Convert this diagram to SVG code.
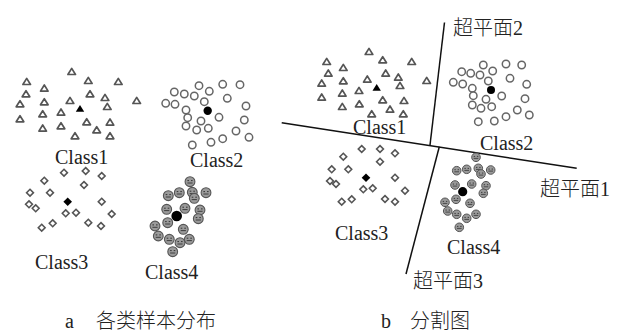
<svg xmlns="http://www.w3.org/2000/svg" xmlns:xlink="http://www.w3.org/1999/xlink" width="621" height="331" viewBox="0 0 621 331">
<style>
.t{fill:#fff;stroke:#555;stroke-width:1.7;stroke-linejoin:round}
.c{fill:#fff;stroke:#666;stroke-width:1.5}
.d{fill:#fff;stroke:#555;stroke-width:1.6}
.tx{font-family:"Liberation Serif","Noto Sans CJK SC",serif;font-size:20px;fill:#222}
.cj{font-family:"Liberation Serif","Noto Sans CJK SC",serif;font-size:20px;fill:#222;font-weight:300}
.ln{stroke:#111;stroke-width:1.5;fill:none}
</style>
<defs>
<path id="tri" class="t" d="M0,-3.3 L3.8,2.8 L-3.8,2.8 Z"/>
<path id="triF" d="M0,-3.8 L4.2,3 L-4.2,3 Z" fill="#000"/>
<circle id="cir" class="c" r="3.7"/>
<path id="dia" class="d" d="M0,-3.4 L3.4,0 L0,3.4 L-3.4,0 Z"/>
<path id="diaF" d="M0,-4.3 L4.3,0 L0,4.3 L-4.3,0 Z" fill="#000"/>
<g id="sm">
<circle r="4.9" fill="#9a9a9a" stroke="#555" stroke-width="1.1"/>
<rect x="-2.6" y="-1.6" width="1.6" height="1" fill="#333"/>
<rect x="1" y="-1.6" width="1.6" height="1" fill="#333"/>
<path d="M-2.6,1.3 L2.6,1.3" stroke="#333" stroke-width="0.9"/>
</g>
<g id="sm2">
<circle r="4.3" fill="#9a9a9a" stroke="#555" stroke-width="1"/>
<rect x="-2.3" y="-1.4" width="1.4" height="0.9" fill="#333"/>
<rect x="0.9" y="-1.4" width="1.4" height="0.9" fill="#333"/>
<path d="M-2.3,1.1 L2.3,1.1" stroke="#333" stroke-width="0.8"/>
</g>
</defs>

<g id="left-class1">
<use href="#tri" x="71.7" y="71.7"/><use href="#tri" x="26.7" y="81.7"/><use href="#tri" x="88.3" y="80.7"/><use href="#tri" x="118.3" y="81.7"/>
<use href="#tri" x="44.3" y="88.3"/><use href="#tri" x="26" y="94"/><use href="#tri" x="90" y="94"/><use href="#tri" x="105" y="97.7"/>
<use href="#tri" x="136.7" y="100.7"/><use href="#tri" x="20" y="104"/><use href="#tri" x="44.3" y="102"/><use href="#tri" x="70" y="100.7"/>
<use href="#tri" x="107.3" y="106.7"/><use href="#tri" x="61" y="112.3"/><use href="#tri" x="42.7" y="114"/><use href="#tri" x="20" y="119"/>
<use href="#tri" x="86.7" y="122"/><use href="#tri" x="110" y="122.3"/><use href="#tri" x="42.7" y="128.3"/><use href="#tri" x="61" y="126"/>
<use href="#tri" x="96.7" y="130"/><use href="#tri" x="75" y="136"/><use href="#tri" x="110" y="136"/>
<use href="#triF" x="80" y="108.7"/>
<text class="tx" x="55" y="164">Class1</text>
</g>

<g id="left-class2">
<use href="#cir" x="199" y="85.7"/><use href="#cir" x="222.7" y="84.3"/><use href="#cir" x="240" y="84.7"/><use href="#cir" x="174.3" y="92"/>
<use href="#cir" x="184.3" y="94"/><use href="#cir" x="194.3" y="96"/><use href="#cir" x="209.3" y="91.3"/><use href="#cir" x="227.3" y="98.3"/>
<use href="#cir" x="165.7" y="103.3"/><use href="#cir" x="175" y="104.3"/><use href="#cir" x="204.3" y="101.7"/><use href="#cir" x="186" y="110"/>
<use href="#cir" x="246" y="106"/><use href="#cir" x="187.7" y="117.7"/><use href="#cir" x="201" y="121"/><use href="#cir" x="219" y="117.3"/>
<use href="#cir" x="244.3" y="120"/><use href="#cir" x="186" y="126"/><use href="#cir" x="196.7" y="130"/><use href="#cir" x="208.3" y="128.3"/>
<use href="#cir" x="236" y="131"/><use href="#cir" x="249" y="137.3"/><use href="#cir" x="222.7" y="138.7"/><use href="#cir" x="211" y="142.3"/>
<use href="#cir" x="192.3" y="145"/>
<circle cx="207.7" cy="110.7" r="4.2" fill="#000"/>
<text class="tx" x="190" y="167">Class2</text>
</g>

<g id="left-class3">
<use href="#dia" x="64" y="172.7"/><use href="#dia" x="85.7" y="171"/><use href="#dia" x="101.7" y="176"/><use href="#dia" x="44.3" y="180.7"/>
<use href="#dia" x="84" y="185"/><use href="#dia" x="30" y="192.7"/><use href="#dia" x="50" y="192.7"/><use href="#dia" x="101.7" y="201.7"/>
<use href="#dia" x="29" y="204.3"/><use href="#dia" x="35.7" y="208.3"/><use href="#dia" x="65.7" y="213.3"/><use href="#dia" x="76" y="212.7"/>
<use href="#dia" x="111.7" y="214"/><use href="#dia" x="41.7" y="227.7"/><use href="#dia" x="52.7" y="223.3"/><use href="#dia" x="88.3" y="222.7"/>
<use href="#dia" x="101" y="226"/>
<use href="#diaF" x="67.7" y="201.7"/>
<text class="tx" x="35" y="269">Class3</text>
</g>

<g id="left-class4">
<use href="#sm" x="190" y="181.7"/><use href="#sm" x="168.3" y="195.7"/><use href="#sm" x="179.3" y="192.7"/><use href="#sm" x="192.3" y="192.3"/>
<use href="#sm" x="206" y="192.7"/><use href="#sm" x="194.3" y="198.3"/><use href="#sm" x="166.7" y="209.3"/><use href="#sm" x="185" y="208.3"/>
<use href="#sm" x="200" y="210"/><use href="#sm" x="198.3" y="218.7"/><use href="#sm" x="167.7" y="222.7"/><use href="#sm" x="155" y="226"/>
<use href="#sm" x="183.3" y="229.3"/><use href="#sm" x="158.3" y="236"/><use href="#sm" x="169.3" y="239.3"/><use href="#sm" x="189.3" y="239.3"/>
<use href="#sm" x="180" y="242.7"/><use href="#sm" x="172.7" y="251.7"/>
<circle cx="176.7" cy="216" r="5.3" fill="#000"/>
<text class="tx" x="145" y="279">Class4</text>
</g>

<g id="connectors">
<line class="ln" x1="281.7" y1="122.7" x2="576.7" y2="168.3"/>
<line class="ln" x1="444.5" y1="22.5" x2="430" y2="145"/>
<line class="ln" x1="439.3" y1="146.7" x2="406" y2="274"/>
</g>

<g id="right-class1">
<use href="#tri" x="369" y="51.7"/><use href="#tri" x="326.7" y="61.7"/><use href="#tri" x="382.7" y="60"/><use href="#tri" x="411.7" y="61.7"/>
<use href="#tri" x="343.3" y="67.7"/><use href="#tri" x="328.3" y="73.3"/><use href="#tri" x="385.7" y="73.3"/><use href="#tri" x="398.3" y="77.3"/>
<use href="#tri" x="321.7" y="83.3"/><use href="#tri" x="343.3" y="81"/><use href="#tri" x="367.3" y="79.3"/><use href="#tri" x="426.7" y="80.7"/>
<use href="#tri" x="400" y="85.7"/><use href="#tri" x="359" y="90.7"/><use href="#tri" x="342.3" y="93.3"/><use href="#tri" x="321.7" y="97.3"/>
<use href="#tri" x="382.7" y="100"/><use href="#tri" x="404" y="100.7"/><use href="#tri" x="342.3" y="106.7"/><use href="#tri" x="359.3" y="104"/>
<use href="#tri" x="390" y="109.3"/><use href="#tri" x="371.7" y="114"/><use href="#tri" x="403.3" y="114"/>
<use href="#triF" x="376.7" y="87.7"/>
<text class="tx" x="353" y="134">Class1</text>
</g>

<g id="right-class2">
<use href="#cir" x="483.3" y="65"/><use href="#cir" x="506" y="64"/><use href="#cir" x="521.7" y="65"/><use href="#cir" x="461.7" y="71.7"/>
<use href="#cir" x="470.7" y="73.3"/><use href="#cir" x="480" y="75"/><use href="#cir" x="492.7" y="71"/><use href="#cir" x="510" y="78.3"/>
<use href="#cir" x="453.3" y="82.3"/><use href="#cir" x="462.7" y="84"/><use href="#cir" x="488.3" y="81"/><use href="#cir" x="472.3" y="88.3"/>
<use href="#cir" x="526.7" y="84.3"/><use href="#cir" x="473.3" y="95.7"/><use href="#cir" x="486" y="99.3"/><use href="#cir" x="501.7" y="96"/>
<use href="#cir" x="525" y="98.7"/><use href="#cir" x="472.3" y="105"/><use href="#cir" x="481" y="108.3"/><use href="#cir" x="491.7" y="106.7"/>
<use href="#cir" x="517.3" y="110"/><use href="#cir" x="529.3" y="115"/><use href="#cir" x="506" y="116.7"/><use href="#cir" x="494.3" y="121"/>
<use href="#cir" x="478.3" y="121.7"/>
<circle cx="491" cy="90" r="4" fill="#000"/>
<text class="tx" x="480" y="150">Class2</text>
</g>

<g id="right-class3">
<use href="#dia" x="361.7" y="149"/><use href="#dia" x="380" y="149"/><use href="#dia" x="395" y="153.3"/><use href="#dia" x="343.3" y="156.7"/>
<use href="#dia" x="380" y="161.7"/><use href="#dia" x="331.7" y="169.3"/><use href="#dia" x="348.3" y="169.3"/><use href="#dia" x="395" y="177.7"/>
<use href="#dia" x="330" y="181"/><use href="#dia" x="336" y="184"/><use href="#dia" x="363.3" y="189.3"/><use href="#dia" x="372.7" y="188.3"/>
<use href="#dia" x="405" y="190.7"/><use href="#dia" x="341.7" y="201.7"/><use href="#dia" x="351.7" y="199.3"/><use href="#dia" x="385" y="199"/>
<use href="#dia" x="395" y="201.7"/>
<use href="#diaF" x="366" y="177.7"/>
<text class="tx" x="335" y="240">Class3</text>
</g>

<g id="right-class4">
<use href="#sm2" x="476" y="157.3"/><use href="#sm2" x="456.7" y="170.7"/><use href="#sm2" x="466.7" y="169.3"/><use href="#sm2" x="478.3" y="168.3"/>
<use href="#sm2" x="490.7" y="170"/><use href="#sm2" x="481" y="174"/><use href="#sm2" x="455" y="185"/><use href="#sm2" x="471.7" y="184"/>
<use href="#sm2" x="486" y="185.7"/><use href="#sm2" x="483.3" y="193.3"/><use href="#sm2" x="456" y="199.3"/><use href="#sm2" x="445" y="202.3"/>
<use href="#sm2" x="470" y="203.3"/><use href="#sm2" x="447.7" y="211"/><use href="#sm2" x="456.7" y="214.3"/><use href="#sm2" x="476" y="214.3"/>
<use href="#sm2" x="466.7" y="218.3"/><use href="#sm2" x="459.3" y="227.3"/>
<circle cx="462.7" cy="191.7" r="4.6" fill="#000"/>
<text class="tx" x="447" y="254">Class4</text>
</g>

<g id="labels">
<text class="cj" x="453" y="35" font-size="21">超平面2</text>
<text class="cj" x="540" y="196" font-size="21">超平面1</text>
<text class="cj" x="413" y="288" font-size="21">超平面3</text>
<text class="cj" x="65" y="328">a</text>
<text class="cj" x="96" y="328" font-size="21">各类样本分布</text>
<text class="cj" x="381" y="328">b</text>
<text class="cj" x="410" y="328" font-size="21">分割图</text>
</g>
</svg>
